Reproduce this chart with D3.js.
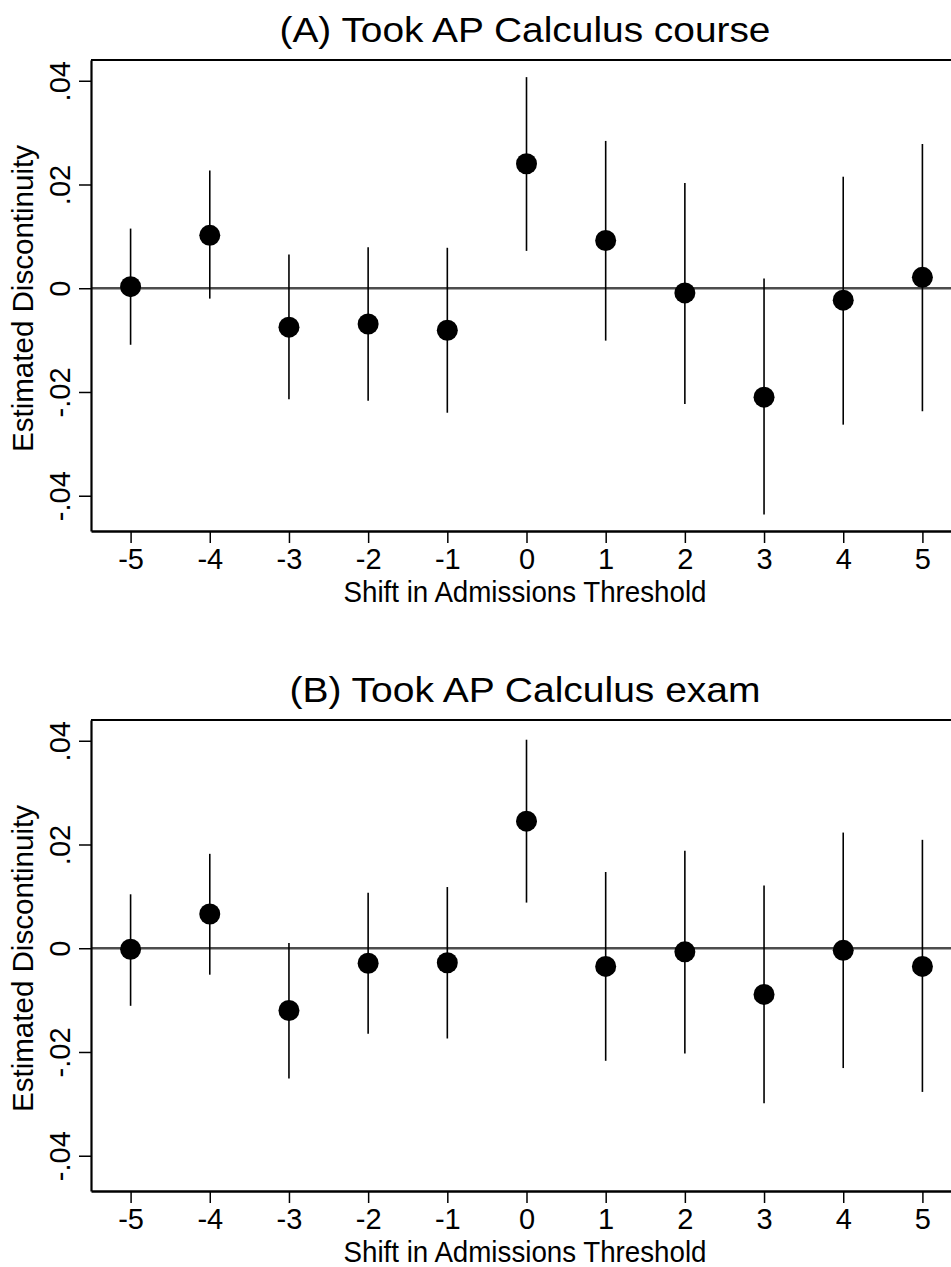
<!DOCTYPE html>
<html>
<head>
<meta charset="utf-8">
<script src="https://cdn.jsdelivr.net/npm/d3@7"></script>
<style>
  body { margin: 0; background: #fff; }
  svg { display: block; font-family: "Liberation Sans", Arial, sans-serif; }
  .tick text { fill: #000; }
</style>
</head>
<body>
<div class="content"></div>
<script>
// shift in admissions threshold
var shifts = [-5, -4, -3, -2, -1, 0, 1, 2, 3, 4, 5];
var yTicks = [-0.04, -0.02, 0, 0.02, 0.04];

// (A) took AP Calculus course
var courseEst = [0.0003, 0.0102, -0.0075, -0.0069, -0.0081, 0.0240, 0.0092, -0.0009, -0.0210, -0.0023, 0.0021];
var courseLo  = [-0.0109, -0.0020, -0.0214, -0.0217, -0.0240, 0.0072, -0.0101, -0.0223, -0.0436, -0.0263, -0.0237];
var courseHi  = [0.0115, 0.0227, 0.0065, 0.0079, 0.0078, 0.0407, 0.0284, 0.0203, 0.0019, 0.0215, 0.0278];

// (B) took AP Calculus exam
var examEst = [-0.0002, 0.0066, -0.0120, -0.0029, -0.0028, 0.0245, -0.0035, -0.0007, -0.0089, -0.0004, -0.0035];
var examLo  = [-0.0111, -0.0051, -0.0251, -0.0165, -0.0174, 0.0088, -0.0217, -0.0203, -0.0299, -0.0231, -0.0277];
var examHi  = [0.0104, 0.0182, 0.0010, 0.0107, 0.0118, 0.0402, 0.0147, 0.0188, 0.0121, 0.0223, 0.0209];

var fullWidth = 951, fullHeight = 1267;

var svg = d3.select("div.content").append("svg")
    .attr("width", fullWidth)
    .attr("height", fullHeight);

// stata style: plain hyphen, no leading zero
function yFormat(v){
    if (Math.abs(v) < 1e-9) return "0";
    return (v < 0 ? "-" : "") + d3.format(".2f")(Math.abs(v)).replace(/^0/, "");
}
function xFormat(v){
    return (v < 0 ? "-" : "") + Math.abs(v);
}

function drawPanel(p){
    var top = p.top, bottom = p.top + 471, left = 91, right = 962;

    var x = d3.scaleLinear().domain([-5.5, 5.5]).range([left, right]);
    var y = d3.scaleLinear().domain([-0.0468, 0.0440]).range([bottom, top]);

    var g = svg.append("g").attr("class", p.cls);

    var data = shifts.map(function(s, i){
        return {x: s, est: p.est[i], lo: p.lo[i], hi: p.hi[i]};
    });

    //title
    g.append("text")
        .attr("x", 525)
        .attr("y", top - 18)
        .attr("text-anchor", "middle")
        .attr("textLength", p.titleWidth)
        .attr("lengthAdjust", "spacingAndGlyphs")
        .style("font-size", "35px")
        .text(p.title);

    //frame
    g.append("line")
        .attr("x1", left).attr("x2", right + 5)
        .attr("y1", top).attr("y2", top)
        .style("stroke", "#000").style("stroke-width", 2);

    //zero line
    g.append("line")
        .attr("x1", left).attr("x2", right + 5)
        .attr("y1", y(0)).attr("y2", y(0))
        .style("stroke", "#4d4d4d").style("stroke-width", 2.4);

    //x-axis
    var xAxis = g.append("g")
        .attr("class", "x-axis")
        .attr("transform", "translate(0," + bottom + ")")
        .call(d3.axisBottom(x).tickValues(shifts).tickFormat(xFormat).tickSize(12).tickPadding(5).tickSizeOuter(0));
    xAxis.select(".domain").style("stroke-width", 2.5);
    xAxis.selectAll(".tick line").style("stroke-width", 1.5);
    xAxis.selectAll(".tick text")
        .style("font-size", "29px")
        .style("font-family", "Liberation Sans, Arial, sans-serif");

    //x-label
    g.append("text")
        .attr("x", 525)
        .attr("y", bottom + 71)
        .attr("text-anchor", "middle")
        .attr("textLength", 363)
        .attr("lengthAdjust", "spacingAndGlyphs")
        .style("font-size", "29px")
        .text("Shift in Admissions Threshold");

    //y-axis
    var yAxis = g.append("g")
        .attr("class", "y-axis")
        .attr("transform", "translate(" + left + ",0)")
        .call(d3.axisLeft(y).tickValues(yTicks).tickSize(12).tickFormat(yFormat).tickSizeOuter(0));
    yAxis.select(".domain").style("stroke-width", 2.2);
    yAxis.selectAll(".tick line").style("stroke-width", 1.5);
    yAxis.selectAll(".tick text")
        .attr("x", null).attr("dy", null)
        .attr("transform", "translate(-21,0) rotate(-90)")
        .attr("text-anchor", "middle")
        .style("font-size", "29px")
        .style("font-family", "Liberation Sans, Arial, sans-serif");

    //y-label
    g.append("text")
        .attr("transform", "translate(33," + ((top + bottom) / 2 + 3) + ") rotate(-90)")
        .attr("text-anchor", "middle")
        .attr("textLength", 307)
        .attr("lengthAdjust", "spacingAndGlyphs")
        .style("font-size", "29px")
        .text("Estimated Discontinuity");

    //confidence intervals
    g.selectAll(".ci")
        .data(data)
    .enter().append("line")
        .attr("class", "ci")
        .attr("x1", function(d){return x(d.x);})
        .attr("x2", function(d){return x(d.x);})
        .attr("y1", function(d){return y(d.lo);})
        .attr("y2", function(d){return y(d.hi);})
        .style("stroke", "#000")
        .style("stroke-width", 1.6);

    //points
    g.selectAll(".dot")
        .data(data)
    .enter().append("circle")
        .attr("class", "dot")
        .attr("r", 10.5)
        .attr("cx", function(d){return x(d.x);})
        .attr("cy", function(d){return y(d.est);})
        .style("fill", "#000");
}

drawPanel({cls: "panelA", top: 60, title: "(A) Took AP Calculus course", titleWidth: 491,
    est: courseEst, lo: courseLo, hi: courseHi});
drawPanel({cls: "panelB", top: 720, title: "(B) Took AP Calculus exam", titleWidth: 471,
    est: examEst, lo: examLo, hi: examHi});
</script>
</body>
</html>
